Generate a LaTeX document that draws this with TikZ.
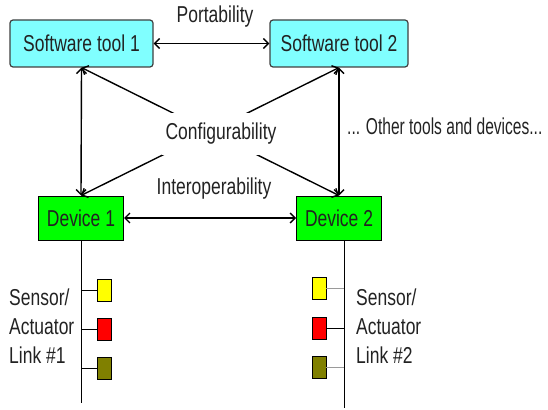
\documentclass[tikz,border=0pt]{standalone}
\usepackage{fontspec}
\setmainfont{Liberation Sans}[FakeStretch=0.76]
\definecolor{toolCyan}{HTML}{80FFFF}
\definecolor{toolBorder}{HTML}{404040}
\definecolor{deviceGreen}{HTML}{00FF00}
\definecolor{sensorYellow}{HTML}{FFFF00}
\definecolor{actuatorRed}{HTML}{FF0000}
\definecolor{linkOlive}{HTML}{808000}
\definecolor{stubGray}{HTML}{9A9A9A}
\definecolor{textMain}{HTML}{222222}
\usetikzlibrary{arrows.meta, positioning}

\tikzset{
  toolbox/.style={draw=toolBorder, fill=toolCyan, line width=1.2pt, rounded corners=3pt,
                  minimum height=47pt, inner sep=0pt},
  devicebox/.style={draw=black, fill=deviceGreen, line width=1pt,
                  minimum width=85pt, minimum height=44pt, inner sep=0pt},
  sensorbox/.style={draw=black, line width=0.8pt, minimum width=14pt, minimum height=22pt, inner sep=0pt},
  twoway/.style={{Straight Barb[length=5pt,width=10pt]}-{Straight Barb[length=5pt,width=10pt]}, line width=1.4pt},
  busline/.style={line width=1pt},
}

\begin{document}
\begin{tikzpicture}[x=1pt, y=-1pt, font=\fontsize{23}{29}\selectfont, text=textMain]
  \useasboundingbox (0,0) rectangle (548,409);

  % tools and devices
  \node[toolbox, minimum width=143pt] (tool1) at (81.5,43.5) {Software tool 1};
  \node[toolbox, minimum width=138pt] (tool2) at (339,43.5) {Software tool 2};
  \node[devicebox] (dev1) at (81,218) {Device 1};
  \node[devicebox] (dev2) at (339,218) {Device 2};

  % links between them
  \draw[twoway] (tool1) -- (tool2);
  \draw[twoway] (tool1.south) -- (dev1.north);
  \draw[twoway] (tool2.south) -- (dev2.north);
  \draw[twoway] (tool1.south) -- (dev2.north);
  \draw[twoway] (tool2.south) -- (dev1.north);
  \draw[twoway] (dev1) -- (dev2);

  \node (portability) at (215,17) {Portability};
  \node[fill=white, inner sep=4pt, minimum height=42pt] (config) at (221,134) {Configurability};
  \node (interop) at (214,189) {Interoperability};
  \node[anchor=west, inner sep=0pt] (others) at (347,126) {\scalebox{0.89}[1]{... Other tools and devices...}};

  % sensor/actuator links
  \coordinate (bus1end) at (81,403);
  \coordinate (bus2top) at ([xshift=5pt]dev2.south);
  \coordinate (bus2end) at (344,408);
  \draw[busline] (dev1.south) -- (bus1end);
  \draw[busline] (bus2top) -- (bus2end);

  \node[sensorbox, fill=sensorYellow] (sens1a) at (104.5,290.5) {};
  \node[sensorbox, fill=actuatorRed]  (sens1b) at (104.5,329.5) {};
  \node[sensorbox, fill=linkOlive]    (sens1c) at (104.5,368.5) {};
  \node[sensorbox, fill=sensorYellow] (sens2a) at (319,288.5) {};
  \node[sensorbox, fill=actuatorRed]  (sens2b) at (319,328.5) {};
  \node[sensorbox, fill=linkOlive]    (sens2c) at (319,367.5) {};

  \draw[busline] (sens1a.west) -- (sens1a.west -| bus1end);
  \draw[busline] (sens1b.west) -- (sens1b.west -| bus1end);
  \draw[busline] (sens1c.west) -- (sens1c.west -| bus1end);
  \draw[busline, stubGray] (sens2a.east) -- (sens2a.east -| bus2end);
  \draw[busline] (sens2b.east) -- (sens2b.east -| bus2end);
  \draw[busline, stubGray] (sens2c.east) -- (sens2c.east -| bus2end);

  \node[anchor=north west, inner sep=0pt, align=left] (link1) at (9,289) {Sensor/\\Actuator\\Link \#1};
  \node[anchor=north west, inner sep=0pt, align=left] (link2) at (356,289) {Sensor/\\Actuator\\Link \#2};
\end{tikzpicture}
\end{document}
